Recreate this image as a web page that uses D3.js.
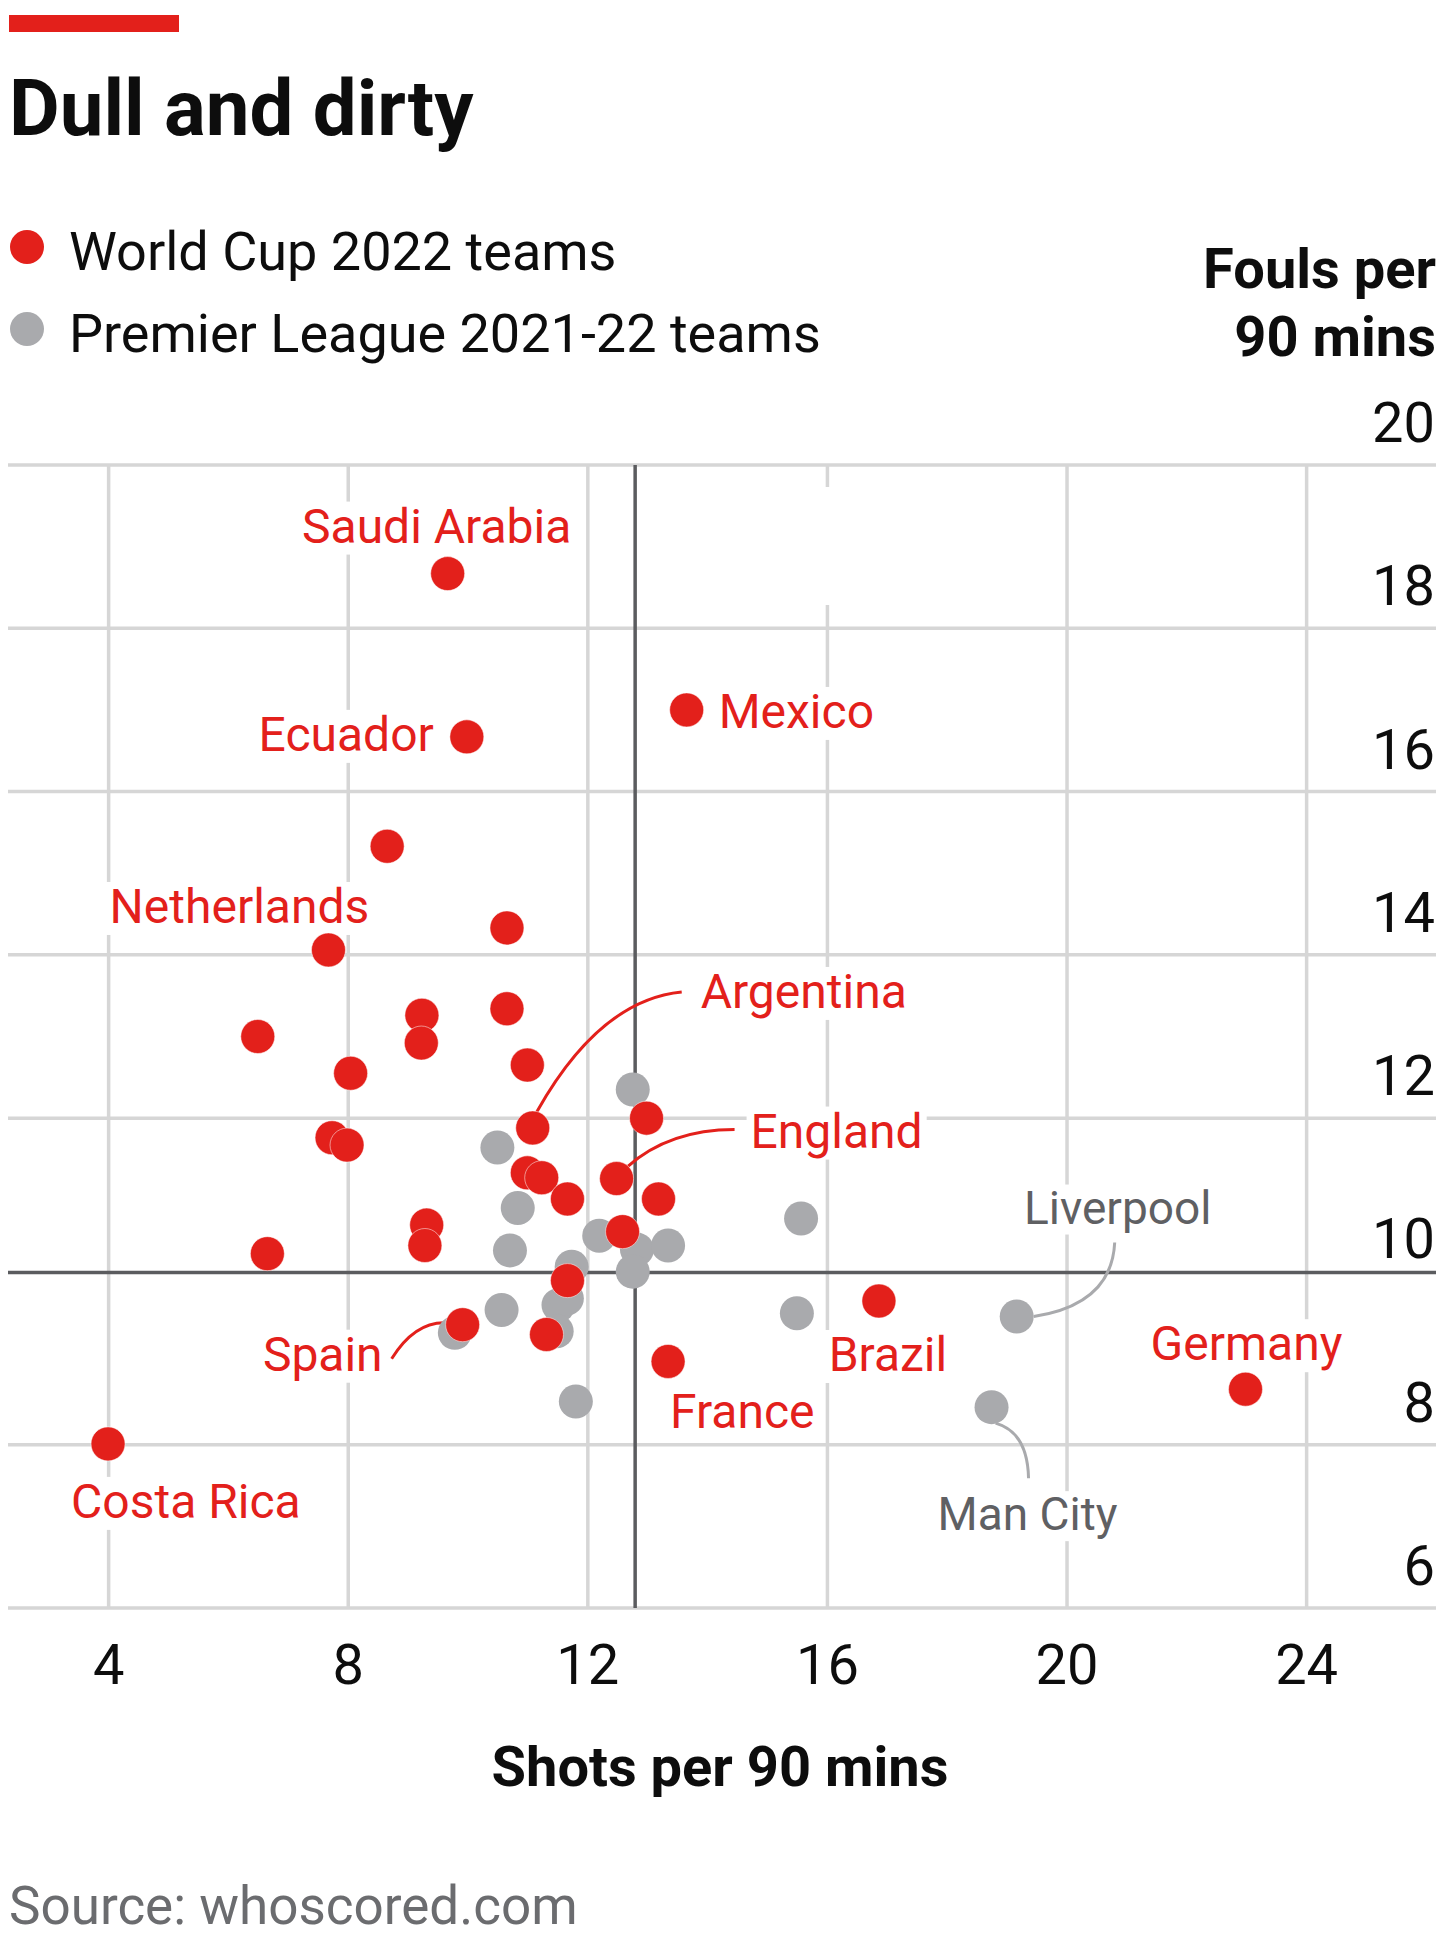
<!DOCTYPE html>
<html>
<head>
<meta charset="utf-8">
<script src="https://cdn.jsdelivr.net/npm/d3@7"></script>
<style>
  body { margin: 0; background: #fff; }
  text { font-family: Roboto, 'Liberation Sans', Arial, sans-serif; }
</style>
</head>
<body>
<div id="chart"></div>
<script>
// World Cup 2022 teams (shots and fouls per 90 mins)
const wcNames = ['Saudi Arabia', 'Ecuador', 'Mexico', '', 'Netherlands', '', '', '', '', '', '', '', '',
  'Argentina', '', '', '', '', 'England', '', '', '', '', '', '', '', 'Spain', '', 'France', 'Brazil',
  'Germany', 'Costa Rica'];
const wcShots = [9.66, 9.98, 13.65, 8.65, 7.67, 10.65, 6.49, 9.23, 9.22, 10.65, 8.04, 10.99, 12.98,
  11.08, 7.73, 7.98, 10.99, 11.23, 12.48, 11.66, 13.18, 9.31, 9.28, 12.58, 6.65, 11.66, 9.91, 11.31,
  13.34, 16.86, 22.98, 3.99];
const wcFouls = [18.67, 16.67, 17.00, 15.33, 14.06, 14.33, 13.00, 13.26, 12.92, 13.34, 12.55, 12.65, 12.00,
  11.88, 11.76, 11.67, 11.33, 11.27, 11.26, 11.01, 11.01, 10.69, 10.44, 10.61, 10.34, 10.01, 9.47, 9.35,
  9.02, 9.76, 8.68, 8.01];

// Premier League 2021-22 teams
const plNames = ['', '', '', '', '', '', '', '', '', '', '', '', '', '', '', '', '', 'Liverpool', 'Man City'];
const plShots = [12.75, 10.49, 10.83, 10.70, 12.19, 12.82, 13.34, 12.75, 11.73, 11.51, 11.65, 10.56,
  9.78, 11.48, 11.80, 15.56, 15.49, 19.16, 18.74];
const plFouls = [12.35, 11.64, 10.90, 10.38, 10.56, 10.39, 10.44, 10.12, 10.18, 9.71, 9.79, 9.65,
  9.37, 9.39, 8.53, 10.77, 9.61, 9.57, 8.46];

// Premier League averages
const avgShots = 12.79;
const avgFouls = 10.11;

const xTicks = [4, 8, 12, 16, 20, 24];
const yTicks = [6, 8, 10, 12, 14, 16, 18, 20];

// label placement relative to each dot (layout only)
const labelLayout = {
  'Saudi Arabia': { anchor: 'middle', dx: -11, dy: -31 },
  'Ecuador': { anchor: 'end', dx: -33, dy: 14 },
  'Mexico': { anchor: 'start', dx: 32, dy: 18 },
  'Netherlands': { anchor: 'middle', dx: -89, dy: -27 },
  'Argentina': { anchor: 'start', dx: 168, dy: -120, leader: [[4, -16], [67, -128], [149, -136]] },
  'England': { anchor: 'start', dx: 134, dy: -31, leader: [[11, -12], [53, -49], [118, -49]] },
  'Spain': { anchor: 'end', dx: -80, dy: 46, leader: [[-17, -2], [-48, -3], [-71, 34]] },
  'France': { anchor: 'start', dx: 2, dy: 67 },
  'Brazil': { anchor: 'middle', dx: 9, dy: 70 },
  'Germany': { anchor: 'middle', dx: 1, dy: -29 },
  'Costa Rica': { anchor: 'start', dx: -37, dy: 74 },
  'Liverpool': { anchor: 'middle', dx: 101, dy: -93, leader: [[17, 0], [95, -12], [98, -74]] },
  'Man City': { anchor: 'middle', dx: 36, dy: 123, leader: [[4, 16], [36, 25], [37, 71]] },
};

const RED = '#e3201b';
const GREY_DOT = '#a9aaad';
const GREY_TEXT = '#5f6063';

const width = 1452;
const height = 1946;

const svg = d3.select('#chart').append('svg')
  .attr('width', width)
  .attr('height', height);

const x = d3.scaleLinear().domain([2.32, 26.16]).range([8, 1436]);
const y = d3.scaleLinear().domain([6, 20]).range([1608, 465]);

// header
svg.append('rect')
  .attr('x', 9).attr('y', 15)
  .attr('width', 170).attr('height', 17)
  .attr('fill', RED);

svg.append('text')
  .attr('x', 9).attr('y', 135)
  .attr('font-size', 78)
  .attr('font-weight', 700)
  .attr('fill', '#0d0d0d')
  .text('Dull and dirty');

// legend
const legend = [
  { label: 'World Cup 2022 teams', color: RED, y: 270 },
  { label: 'Premier League 2021-22 teams', color: GREY_DOT, y: 352 },
];
const legendG = svg.append('g');
legendG.selectAll('circle')
  .data(legend)
  .join('circle')
  .attr('cx', 27)
  .attr('cy', (d) => d.y - 23)
  .attr('r', 17)
  .attr('fill', (d) => d.color);
legendG.selectAll('text')
  .data(legend)
  .join('text')
  .attr('x', 69)
  .attr('y', (d) => d.y)
  .attr('font-size', 54)
  .attr('fill', '#0d0d0d')
  .text((d) => d.label);

// y axis title
svg.append('text')
  .attr('text-anchor', 'end')
  .attr('font-size', 56)
  .attr('font-weight', 700)
  .attr('fill', '#0d0d0d')
  .selectAll('tspan')
  .data(['Fouls per', '90 mins'])
  .join('tspan')
  .attr('x', 1436)
  .attr('y', (d, i) => 288 + i * 68)
  .text((d) => d);

// grid
const grid = svg.append('g');
grid.selectAll('line.h')
  .data(yTicks.filter((d) => d !== 10))
  .join('line')
  .attr('class', 'h')
  .attr('x1', x.range()[0])
  .attr('x2', x.range()[1])
  .attr('y1', (d) => y(d))
  .attr('y2', (d) => y(d))
  .attr('stroke', '#d6d6d6')
  .attr('stroke-width', 3.5);

grid.selectAll('line.v')
  .data(xTicks)
  .join('line')
  .attr('class', 'v')
  .attr('x1', (d) => x(d))
  .attr('x2', (d) => x(d))
  .attr('y1', y(20))
  .attr('y2', y(6))
  .attr('stroke', '#d6d6d6')
  .attr('stroke-width', 3.5);

// tick labels
svg.append('g').selectAll('text')
  .data(yTicks)
  .join('text')
  .attr('x', 1435)
  .attr('y', (d) => y(d) - 23)
  .attr('text-anchor', 'end')
  .attr('font-size', 56)
  .attr('fill', '#0d0d0d')
  .text((d) => d);

svg.append('g').selectAll('text')
  .data(xTicks)
  .join('text')
  .attr('x', (d) => x(d))
  .attr('y', 1684)
  .attr('text-anchor', 'middle')
  .attr('font-size', 56)
  .attr('fill', '#0d0d0d')
  .text((d) => d);

svg.append('text')
  .attr('x', 720)
  .attr('y', 1786)
  .attr('text-anchor', 'middle')
  .attr('font-size', 56)
  .attr('font-weight', 700)
  .attr('fill', '#0d0d0d')
  .text('Shots per 90 mins');

// source
svg.append('text')
  .attr('x', 9)
  .attr('y', 1924)
  .attr('font-size', 53)
  .attr('fill', '#6b6c6f')
  .text('Source: whoscored.com');

// average lines
svg.append('line')
  .attr('x1', x(avgShots)).attr('x2', x(avgShots))
  .attr('y1', y(20)).attr('y2', y(6))
  .attr('stroke', '#5b5c5f').attr('stroke-width', 3.5);
svg.append('line')
  .attr('x1', x.range()[0]).attr('x2', x.range()[1])
  .attr('y1', y(avgFouls)).attr('y2', y(avgFouls))
  .attr('stroke', '#5b5c5f').attr('stroke-width', 3.5);

const avgLabel = svg.append('text')
  .attr('font-size', 49)
  .attr('font-weight', 700)
  .attr('fill', '#616265');
avgLabel.selectAll('tspan')
  .data(['Premier League', 'averages'])
  .join('tspan')
  .attr('x', x(avgShots) + 34)
  .attr('y', (d, i) => y(20) + 67 + i * 61)
  .text((d) => d);

// points
const wc = wcNames.map((n, i) => ({ name: n, shots: wcShots[i], fouls: wcFouls[i], group: 'wc' }));
const pl = plNames.map((n, i) => ({ name: n, shots: plShots[i], fouls: plFouls[i], group: 'pl' }));
const labelled = [...wc, ...pl].filter((d) => d.name !== '');

const bgLayer = svg.append('g');
const leaderLayer = svg.append('g');
const dotLayer = svg.append('g');
const labelLayer = svg.append('g');

leaderLayer.selectAll('path')
  .data(labelled.filter((d) => labelLayout[d.name].leader))
  .join('path')
  .attr('fill', 'none')
  .attr('stroke', (d) => (d.group === 'wc' ? RED : GREY_DOT))
  .attr('stroke-width', 3)
  .attr('d', (d) => {
    const [s, c, e] = labelLayout[d.name].leader;
    const cx = x(d.shots);
    const cy = y(d.fouls);
    const p = d3.path();
    p.moveTo(cx + s[0], cy + s[1]);
    p.quadraticCurveTo(cx + c[0], cy + c[1], cx + e[0], cy + e[1]);
    return p.toString();
  });

dotLayer.selectAll('circle.pl')
  .data(pl)
  .join('circle')
  .attr('class', 'pl')
  .attr('cx', (d) => x(d.shots))
  .attr('cy', (d) => y(d.fouls))
  .attr('r', 17)
  .attr('fill', GREY_DOT);

dotLayer.selectAll('circle.wc')
  .data(wc)
  .join('circle')
  .attr('class', 'wc')
  .attr('cx', (d) => x(d.shots))
  .attr('cy', (d) => y(d.fouls))
  .attr('r', 17)
  .attr('fill', RED)
  .attr('stroke', '#fff')
  .attr('stroke-opacity', 0.5)
  .attr('stroke-width', 1);

const labels = labelLayer.selectAll('text')
  .data(labelled)
  .join('text')
  .attr('x', (d) => x(d.shots) + labelLayout[d.name].dx)
  .attr('y', (d) => y(d.fouls) + labelLayout[d.name].dy)
  .attr('text-anchor', (d) => labelLayout[d.name].anchor)
  .attr('font-size', (d) => (d.group === 'wc' ? 48 : 46))
  .attr('fill', (d) => (d.group === 'wc' ? RED : GREY_TEXT))
  .text((d) => d.name);

// white boxes behind labels so gridlines break around them
labels.each(function () {
  const b = this.getBBox();
  bgLayer.append('rect')
    .attr('x', b.x - 4)
    .attr('y', b.y + 4)
    .attr('width', b.width + 8)
    .attr('height', b.height - 4)
    .attr('fill', '#fff');
});
const ab = avgLabel.node().getBBox();
bgLayer.append('rect')
  .attr('x', ab.x - 4).attr('y', ab.y)
  .attr('width', ab.width + 8).attr('height', ab.height)
  .attr('fill', '#fff');
</script>
</body>
</html>
